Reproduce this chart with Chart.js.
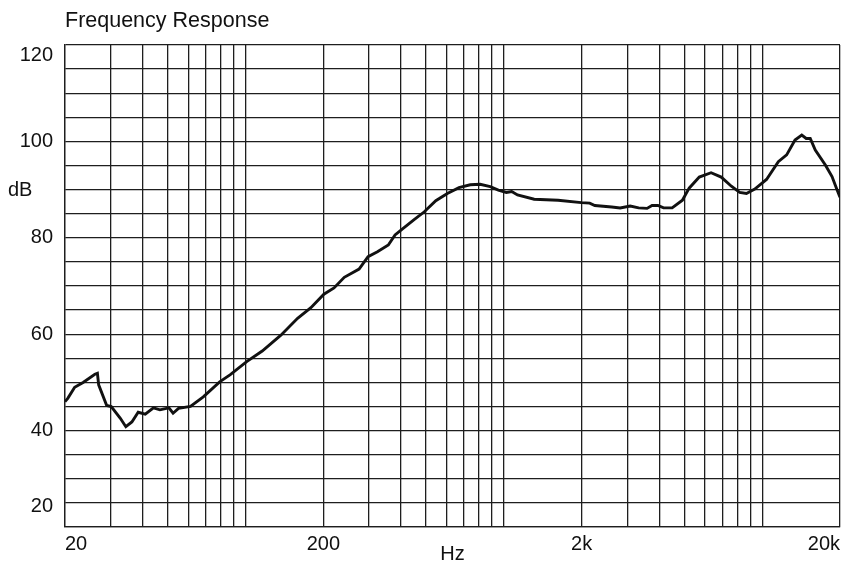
<!DOCTYPE html>
<html>
<head>
<meta charset="utf-8">
<title>Frequency Response</title>
<script src="https://cdn.jsdelivr.net/npm/chart.js@4.4.1/dist/chart.umd.min.js"></script>
<style>
  html, body { margin: 0; padding: 0; background: #fff; }
  #wrap { width: 843px; height: 564px; position: relative; }
</style>
</head>
<body>
<div id="wrap"><canvas id="frChart"></canvas></div>
<script>
// frequences (Hz) et niveaux (dB)
const freqs = [20, 20.5, 21.8, 23.5, 26.1, 26.7, 27.0, 29.0, 30.2, 32.7, 34.4, 36.3, 38.4, 40.9, 44.0, 46.6,
    50.5, 52.4, 55.0, 61.2, 68.6, 79.4, 87.3, 101, 116, 137, 159, 179, 201, 220, 241, 275, 298, 324, 357,
    379, 404, 448, 492, 545, 604, 670, 741, 809, 885, 952, 1022, 1072, 1129, 1310, 1621, 1993, 2148, 2249,
    2614, 2818, 3083, 3323, 3581, 3745, 3946, 4150, 4480, 4909, 5213, 5705, 6339, 6938, 7594, 8180, 8685,
    9359, 10389, 11542, 12431, 13394, 14224, 14795, 15340, 16046, 17554, 18626, 19376, 20000];
const levels = [46.0, 46.7, 49.0, 50.0, 51.7, 51.9, 49.5, 45.2, 45.0, 42.6, 40.8, 41.8, 43.8, 43.4, 44.7, 44.3,
    44.7, 43.6, 44.6, 45.0, 47.0, 50.1, 51.6, 54.3, 56.5, 59.8, 63.3, 65.5, 68.3, 69.6, 71.8, 73.5, 76.1, 77.1, 78.5,
    80.6, 81.8, 83.7, 85.4, 87.7, 89.2, 90.4, 91.0, 91.1, 90.6, 89.9, 89.4, 89.6, 88.9, 88.0, 87.8, 87.3, 87.2, 86.7,
    86.4, 86.2, 86.6, 86.2, 86.1, 86.7, 86.7, 86.2, 86.2, 87.8, 90.3, 92.6, 93.5, 92.6, 90.7, 89.4, 89.2,
    90.1, 92.1, 95.8, 97.2, 100.3, 101.3, 100.6, 100.6, 98.2, 95.1, 92.7, 90.3, 88.4];

// grille verticale et etiquettes de l'axe X
const xGrid = [20, 30, 40, 50, 60, 70, 80, 90, 100, 200, 300, 400, 500, 600, 700, 800, 900,
    1000, 2000, 3000, 4000, 5000, 6000, 7000, 8000, 9000, 10000, 20000];
const xLabelValues = [20, 200, 2000, 20000];
const xLabelText = ['20', '200', '2k', '20k'];

// etiquettes de l'axe Y
const yLabelValues = [40, 60, 80, 100];
const yEdgeValues = [120, 20];

const gridColor = '#1e1e1e';
const fontFamily = '"Liberation Sans", Arial, Helvetica, sans-serif';

// Plugin pour le titre, "dB" et les etiquettes 120 / 20 decalees vers l'interieur
const extraText = {
    id: 'extraText',
    afterDraw(chart) {
        const ctx = chart.ctx;
        const area = chart.chartArea;
        const y = chart.scales.y;
        ctx.save();
        ctx.fillStyle = '#111';
        ctx.font = '21.5px ' + fontFamily;
        ctx.textAlign = 'left';
        ctx.textBaseline = 'alphabetic';
        ctx.fillText('Frequency Response', area.left, 27);

        ctx.font = '20px ' + fontFamily;
        ctx.textBaseline = 'middle';
        ctx.fillText('dB', 8, y.getPixelForValue(90) + 1);

        ctx.textAlign = 'right';
        ctx.fillText(String(yEdgeValues[0]), area.left - 12, y.getPixelForValue(yEdgeValues[0]) + 10);
        ctx.fillText(String(yEdgeValues[1]), area.left - 12, y.getPixelForValue(yEdgeValues[1]) - 21);
        ctx.restore();
    }
};

const ctx = document.getElementById('frChart').getContext('2d');
new Chart(ctx, {
    type: 'line',
    data: {
        datasets: [{
            label: 'Frequency Response',
            data: freqs.map((f, i) => ({ x: f, y: levels[i] })),
            borderColor: '#111',
            borderWidth: 2.9,
            pointRadius: 0,
            tension: 0,
            fill: false
        }]
    },
    options: {
        responsive: true,
        maintainAspectRatio: false,
        animation: false,
        layout: { padding: { top: 45, right: 3, left: 0, bottom: 0 } },
        plugins: {
            legend: { display: false },
            title: { display: false },
            tooltip: { enabled: false }
        },
        scales: {
            x: {
                type: 'logarithmic',
                min: 20,
                max: 20000,
                afterBuildTicks: scale => { scale.ticks = xGrid.map(v => ({ value: v })); },
                afterFit: scale => {
                    scale.height = 37;
                    scale.paddingLeft = 0;
                    scale.paddingRight = 0;
                },
                grid: { color: gridColor, lineWidth: 1.3, drawTicks: false },
                border: { display: true, color: gridColor, width: 1.3 },
                ticks: {
                    autoSkip: false,
                    maxRotation: 0,
                    align: 'inner',
                    padding: 5,
                    color: '#111',
                    font: { family: fontFamily, size: 20 },
                    callback: function(value) {
                        const i = xLabelValues.indexOf(value);
                        return i >= 0 ? xLabelText[i] : '';
                    }
                },
                title: {
                    display: true,
                    text: 'Hz',
                    color: '#111',
                    padding: 0,
                    font: { family: fontFamily, size: 20, lineHeight: 1 }
                }
            },
            y: {
                type: 'linear',
                min: 20,
                max: 120,
                afterFit: scale => { scale.width = 65; },
                grid: { color: gridColor, lineWidth: 1.3, drawTicks: false },
                border: { display: true, color: gridColor, width: 1.3 },
                ticks: {
                    stepSize: 5,
                    maxTicksLimit: 30,
                    autoSkip: false,
                    padding: 12,
                    color: '#111',
                    font: { family: fontFamily, size: 20 },
                    callback: value => yLabelValues.includes(value) ? String(value) : ''
                }
            }
        }
    },
    plugins: [extraText]
});
</script>
</body>
</html>
